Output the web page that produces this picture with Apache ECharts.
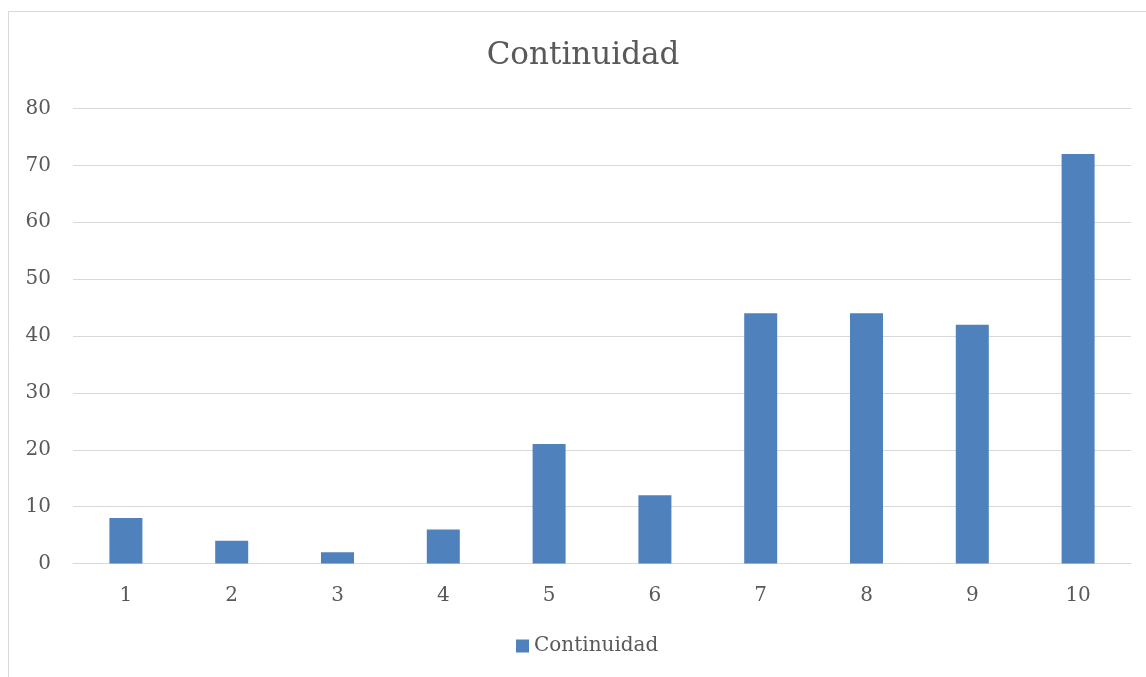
<!DOCTYPE html>
<html>
<head>
<meta charset="utf-8">
<script src="https://cdn.jsdelivr.net/npm/echarts@6/dist/echarts.min.js"></script>
<style>
  html, body { margin: 0; padding: 0; background: #ffffff; }
  #chart { width: 1146px; height: 677px; }
</style>
</head>
<body>
<div id="chart"></div>
<script>
// Categories and values of the "Continuidad" series
const categories = ['1', '2', '3', '4', '5', '6', '7', '8', '9', '10'];
const continuidad = [8, 4, 2, 6, 21, 12, 44, 44, 42, 72];
const seriesName = 'Continuidad';
const yMin = 0, yMax = 80, yStep = 10;

const textColor = '#595959';
const fontFamily = '"DejaVu Serif", "Liberation Serif", serif';

const chart = echarts.init(document.getElementById('chart'), null, { renderer: 'canvas' });
chart.setOption({
  backgroundColor: '#ffffff',
  animation: false,
  graphic: [{
    type: 'rect',
    shape: { x: 8.5, y: 11.5, width: 1300, height: 800 },
    style: { fill: 'none', stroke: '#d9d9d9', lineWidth: 1 },
    silent: true
  }],
  title: {
    text: seriesName,
    left: 578,
    textAlign: 'center',
    top: 35,
    textStyle: { color: textColor, fontFamily: fontFamily, fontSize: 31, fontWeight: 'normal' }
  },
  legend: {
    data: [seriesName],
    left: 511,
    top: 631,
    itemWidth: 13,
    itemHeight: 13,
    icon: 'rect',
    textStyle: { color: textColor, fontFamily: fontFamily, fontSize: 20 }
  },
  grid: { left: 73, right: 15, top: 108.5, bottom: 113.5, containLabel: false },
  xAxis: {
    type: 'category',
    data: categories,
    axisLine: { show: true, lineStyle: { color: '#d9d9d9', width: 1 } },
    axisTick: { show: false },
    axisLabel: { color: textColor, fontFamily: fontFamily, fontSize: 20, margin: 22 }
  },
  yAxis: {
    type: 'value',
    min: yMin, max: yMax, interval: yStep,
    axisLine: { show: false },
    axisTick: { show: false },
    splitLine: { lineStyle: { color: '#d9d9d9', width: 1 } },
    axisLabel: { color: textColor, fontFamily: fontFamily, fontSize: 20, margin: 22 }
  },
  series: [{
    name: seriesName,
    type: 'bar',
    data: continuidad,
    barWidth: 33,
    itemStyle: { color: '#4f81bd' }
  }]
});
</script>
</body>
</html>
